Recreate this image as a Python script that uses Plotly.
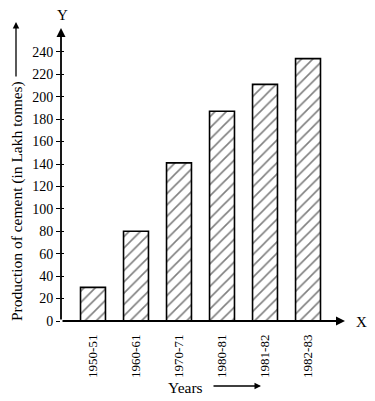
import plotly.graph_objects as go

categories = ["1950-51", "1960-61", "1970-71", "1980-81", "1981-82", "1982-83"]
production = [30, 80, 141, 187, 211, 234]
y_ticks = list(range(0, 241, 20))

W, H = 375, 401
L, R, T, B = 61, 30, 28, 80
PW, PH = W - L - R, H - T - B
XMIN, XMAX = -0.744, 5.86
YMIN, YMAX = 0, 261.3


def px(x):
    return (x - L) / PW


def py(y):
    return (H - B - y) / PH


FONT = "Liberation Serif, Times New Roman, serif"

fig = go.Figure()
fig.add_trace(go.Bar(
    x=list(range(len(categories))), y=production, width=0.58,
    marker=dict(color="white", line=dict(color="black", width=1.6),
                pattern=dict(shape="/", fgcolor="black", bgcolor="white",
                             size=8, solidity=0.2)),
    hoverinfo="x+y", showlegend=False,
))
fig.add_trace(go.Scatter(x=[0], y=[0], yaxis="y2", mode="markers",
                         marker=dict(opacity=0), showlegend=False, hoverinfo="skip"))

fig.update_layout(
    width=W, height=H, margin=dict(l=L, r=R, t=T, b=B),
    paper_bgcolor="white", plot_bgcolor="white",
    font=dict(family=FONT, color="black", size=14),
    xaxis=dict(range=[XMIN, XMAX], tickmode="array", tickvals=list(range(len(categories))),
               ticktext=categories, tickangle=-90, ticks="", showgrid=False,
               zeroline=False, showline=False, ticklabelstandoff=10,
               tickfont=dict(size=13, family=FONT)),
    yaxis=dict(range=[YMIN, YMAX], tickvals=y_ticks, ticks="outside", ticklen=4,
               tickwidth=1.2, tickcolor="black", showgrid=False, zeroline=False,
               showline=False, tickfont=dict(size=14, family=FONT)),
    yaxis2=dict(range=[YMIN, YMAX], overlaying="y", side="left", anchor="x",
                tickvals=y_ticks, ticks="inside", ticklen=3, tickwidth=1.2,
                tickcolor="black", showticklabels=False, showgrid=False,
                zeroline=False, showline=False),
)

C = dict(xref="paper", yref="paper", xanchor="center", yanchor="middle")
ann = []
# axes arrows
ann.append(dict(x=XMAX, y=0, ax=XMIN, ay=0, xref="x", yref="y", axref="x", ayref="y",
                showarrow=True, arrowhead=2, arrowsize=1, arrowwidth=1.8, arrowcolor="black", text=""))
ann.append(dict(x=XMIN, y=YMAX, ax=XMIN, ay=0, xref="x", yref="y", axref="x", ayref="y",
                showarrow=True, arrowhead=2, arrowsize=1, arrowwidth=1.8, arrowcolor="black", text=""))
ann.append(dict(x=px(361), y=py(322), text="X", showarrow=False,
                font=dict(size=15, family=FONT), **C))
ann.append(dict(x=px(62), y=py(15), text="Y", showarrow=False,
                font=dict(size=15, family=FONT), **C))
# y title
ann.append(dict(x=px(17), y=py(201), text="Production of cement (in Lakh tonnes)",
                textangle=-90, showarrow=False, font=dict(size=15.5, family=FONT), **C))
ann.append(dict(x=px(16), y=py(22), ax=0, ay=56, text="",
                showarrow=True, arrowhead=2, arrowsize=1, arrowwidth=1.3, arrowcolor="black",
                xref="paper", yref="paper"))
# x title
ann.append(dict(x=px(185), y=py(387), text="Years", showarrow=False,
                font=dict(size=15.5, family=FONT), **C))
ann.append(dict(x=px(261), y=py(386), ax=-49, ay=0, text="",
                showarrow=True, arrowhead=2, arrowsize=1, arrowwidth=1.3, arrowcolor="black",
                xref="paper", yref="paper"))
fig.update_layout(annotations=ann)

fig.write_html("out.html", config={"displayModeBar": False},
               post_script="document.body.style.margin='0';")
